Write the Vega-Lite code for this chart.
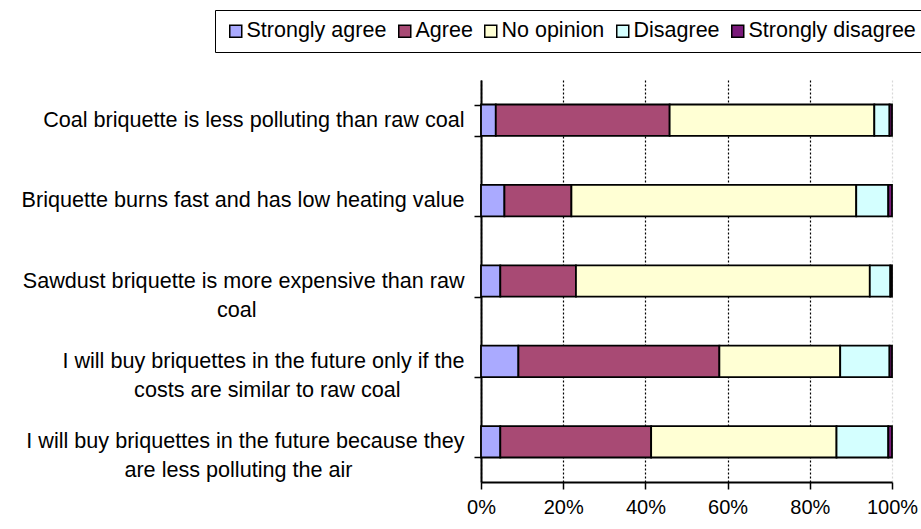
{
  "$schema": "https://vega.github.io/schema/vega-lite/v6.json",
  "autosize": {"type": "none"},
  "padding": {"left": 481, "top": 80, "right": 29, "bottom": 47},
  "width": 411,
  "height": 402,
  "background": "white",
  "config": {
    "view": {"stroke": null},
    "font": "Liberation Sans"
  },
  "data": {
    "values": [
      {"statement": "Coal briquette is less polluting than raw coal", "response": "Strongly agree", "n": 1, "pct": 3.6},
      {"statement": "Coal briquette is less polluting than raw coal", "response": "Agree", "n": 2, "pct": 42.3},
      {"statement": "Coal briquette is less polluting than raw coal", "response": "No opinion", "n": 3, "pct": 49.8},
      {"statement": "Coal briquette is less polluting than raw coal", "response": "Disagree", "n": 4, "pct": 3.7},
      {"statement": "Coal briquette is less polluting than raw coal", "response": "Strongly disagree", "n": 5, "pct": 0.6},
      {"statement": "Briquette burns fast and has low heating value", "response": "Strongly agree", "n": 1, "pct": 5.7},
      {"statement": "Briquette burns fast and has low heating value", "response": "Agree", "n": 2, "pct": 16.3},
      {"statement": "Briquette burns fast and has low heating value", "response": "No opinion", "n": 3, "pct": 69.3},
      {"statement": "Briquette burns fast and has low heating value", "response": "Disagree", "n": 4, "pct": 7.8},
      {"statement": "Briquette burns fast and has low heating value", "response": "Strongly disagree", "n": 5, "pct": 0.9},
      {"statement": "Sawdust briquette is more expensive than raw\ncoal", "response": "Strongly agree", "n": 1, "pct": 4.7},
      {"statement": "Sawdust briquette is more expensive than raw\ncoal", "response": "Agree", "n": 2, "pct": 18.4},
      {"statement": "Sawdust briquette is more expensive than raw\ncoal", "response": "No opinion", "n": 3, "pct": 71.5},
      {"statement": "Sawdust briquette is more expensive than raw\ncoal", "response": "Disagree", "n": 4, "pct": 5.0},
      {"statement": "Sawdust briquette is more expensive than raw\ncoal", "response": "Strongly disagree", "n": 5, "pct": 0.4},
      {"statement": "I will buy briquettes in the future only if the\ncosts are similar to raw coal", "response": "Strongly agree", "n": 1, "pct": 9.1},
      {"statement": "I will buy briquettes in the future only if the\ncosts are similar to raw coal", "response": "Agree", "n": 2, "pct": 48.9},
      {"statement": "I will buy briquettes in the future only if the\ncosts are similar to raw coal", "response": "No opinion", "n": 3, "pct": 29.4},
      {"statement": "I will buy briquettes in the future only if the\ncosts are similar to raw coal", "response": "Disagree", "n": 4, "pct": 12.0},
      {"statement": "I will buy briquettes in the future only if the\ncosts are similar to raw coal", "response": "Strongly disagree", "n": 5, "pct": 0.6},
      {"statement": "I will buy briquettes in the future because they\nare less polluting the air", "response": "Strongly agree", "n": 1, "pct": 4.7},
      {"statement": "I will buy briquettes in the future because they\nare less polluting the air", "response": "Agree", "n": 2, "pct": 36.7},
      {"statement": "I will buy briquettes in the future because they\nare less polluting the air", "response": "No opinion", "n": 3, "pct": 45.1},
      {"statement": "I will buy briquettes in the future because they\nare less polluting the air", "response": "Disagree", "n": 4, "pct": 12.6},
      {"statement": "I will buy briquettes in the future because they\nare less polluting the air", "response": "Strongly disagree", "n": 5, "pct": 0.9}
    ]
  },
  "mark": {"type": "bar", "stroke": "black", "strokeWidth": 1.8},
  "encoding": {
    "y": {
      "field": "statement",
      "type": "nominal",
      "sort": null,
      "scale": {"paddingInner": 0.61, "paddingOuter": 0.305},
      "axis": {
        "title": null,
        "tickBand": "extent",
        "labelExpr": "indexof(datum.label, '\\n') < 0 ? datum.label : [split(datum.label, '\\n')[0], pad(split(datum.label, '\\n')[1], indexof(datum.label, 'Sawdust') == 0 ? 17 : indexof(datum.label, 'only if') > 0 ? 33 : 33, '\u2800')]",
        "labelFont": "Liberation Sans",
        "labelFontSize": 21.6,
        "labelColor": "black",
        "labelLimit": 600,
        "labelLineHeight": 29,
        "labelPadding": 10,
        "domainColor": "black",
        "domainWidth": 2,
        "tickColor": "black",
        "tickWidth": 1.5,
        "tickSize": 7,
        "grid": false
      }
    },
    "x": {
      "field": "pct",
      "type": "quantitative",
      "stack": "normalize",
      "scale": {"domain": [0, 1]},
      "axis": {
        "title": null,
        "format": ".0%",
        "values": [0, 0.2, 0.4, 0.6, 0.8, 1],
        "labelFont": "Liberation Sans",
        "labelFontSize": 20,
        "labelColor": "black",
        "labelPadding": 8,
        "labelFlush": false,
        "domainColor": "black",
        "domainWidth": 2,
        "tickColor": "black",
        "tickWidth": 1.5,
        "tickSize": 7,
        "grid": true,
        "gridWidth": 1.2,
        "gridDash": [2, 2],
        "gridColor": {"condition": {"test": "datum.value == 1", "value": "#d8d8d8"}, "value": "black"}
      }
    },
    "order": {"field": "n", "type": "quantitative"},
    "color": {
      "field": "response",
      "type": "nominal",
      "sort": ["Strongly agree", "Agree", "No opinion", "Disagree", "Strongly disagree"],
      "scale": {
        "domain": ["Strongly agree", "Agree", "No opinion", "Disagree", "Strongly disagree"],
        "range": ["#AAAAFF", "#A84A74", "#FFFFD4", "#D4FFFF", "#7A1A7A"]
      },
      "legend": {
        "title": null,
        "orient": "none",
        "legendX": -266,
        "legendY": -70,
        "direction": "horizontal",
        "columns": 5,
        "columnPadding": 7,
        "padding": 10,
        "strokeColor": "black",
        "fillColor": "white",
        "symbolType": "square",
        "symbolSize": 144,
        "symbolStrokeColor": "black",
        "symbolStrokeWidth": 1.5,
        "labelFont": "Liberation Sans",
        "labelFontSize": 21.5,
        "labelColor": "black",
        "labelOffset": 0,
        "labelLimit": 300
      }
    }
  }
}
